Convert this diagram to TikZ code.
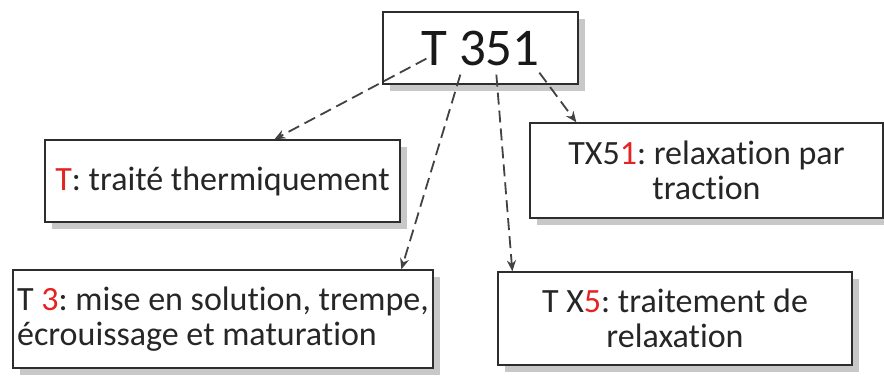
\documentclass[tikz,border=0pt]{standalone}
\usepackage{fontspec}
\setmainfont[RawFeature=-liga]{Carlito}
\frenchspacing
\usetikzlibrary{shadows,arrows.meta}
\definecolor{lbl}{RGB}{230,35,35}
\definecolor{edge}{RGB}{45,45,45}
\definecolor{shd}{RGB}{200,200,200}
\tikzset{
  box/.style={draw=edge, line width=1.3pt, fill=white, rectangle, inner sep=2pt,
    drop shadow={shadow xshift=7pt, shadow yshift=-7pt, fill=shd, opacity=1}},
  conn/.style={draw=edge!90, line width=1.8pt, dash pattern=on 12pt off 6pt,
    -{Stealth[length=11pt,width=9pt]}},
  txt/.style={font=\fontsize{34}{35.5}\selectfont, text=black!85}
}
\begin{document}
\begin{tikzpicture}[x=1pt,y=1pt]
\useasboundingbox (0,0) rectangle (884,-376);
\node[box, minimum width=195pt, minimum height=72pt, font=\fontsize{53}{60}\selectfont, text=black!90] (top) at (480.5,-48) {T 351};
\node[box, txt, minimum width=355pt, minimum height=82pt] (t) at (222.5,-181) {\textcolor{lbl}{T}: traité thermiquement};
\node[box, txt, minimum width=420pt, minimum height=98pt, align=left] (t3) at (223,-319) {T \textcolor{lbl}{3}: mise en solution, trempe,\\écrouissage et maturation};
\node[box, txt, minimum width=353pt, minimum height=95pt, align=center] (tx51) at (706.5,-170.5) {TX5\textcolor{lbl}{1}: relaxation par\\traction};
\node[box, txt, minimum width=354pt, minimum height=93pt, align=center] (tx5) at (675,-318.5) {T X\textcolor{lbl}{5}: traitement de\\relaxation};
\coordinate (s1) at ([xshift=44pt,yshift=26pt]top.south west);
\coordinate (s2) at ([xshift=78pt,yshift=10pt]top.south west);
\coordinate (s3) at ([xshift=114pt,yshift=10pt]top.south west);
\coordinate (s4) at ([xshift=157pt,yshift=12pt]top.south west);
\coordinate (e1) at ([xshift=230pt]t.north west);
\coordinate (e2) at ([xshift=389pt]t3.north west);
\coordinate (e3) at ([xshift=15pt]tx5.north west);
\coordinate (e4) at ([xshift=47pt]tx51.north west);
\draw[conn] (s1) -- (e1);
\draw[conn] (s2) -- (e2);
\draw[conn] (s3) -- (e3);
\draw[conn] (s4) -- (e4);
\end{tikzpicture}
\end{document}
